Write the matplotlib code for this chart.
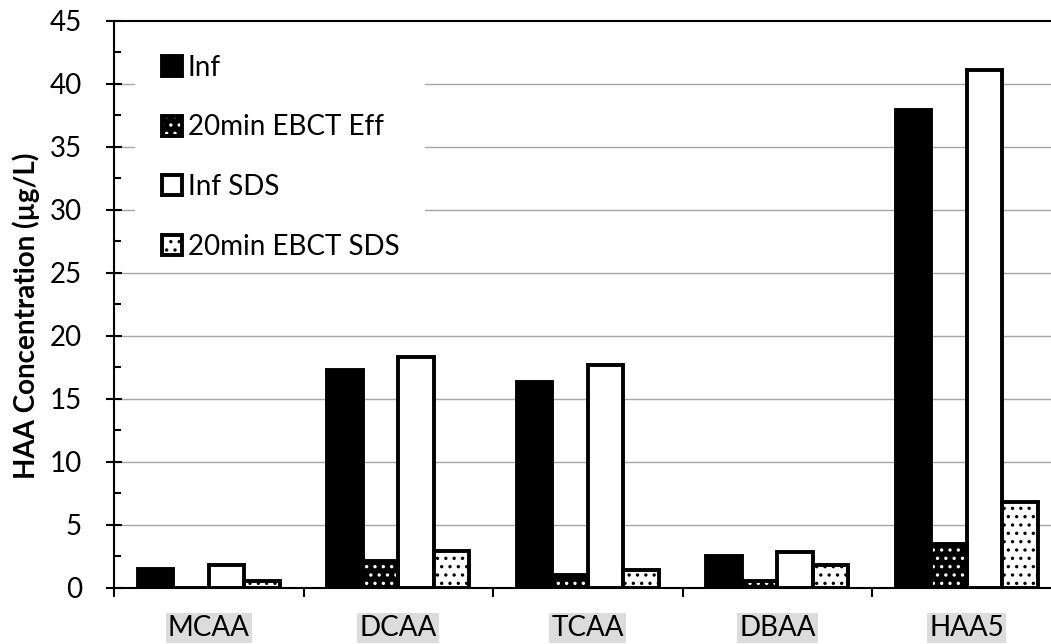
import numpy as np
import matplotlib
matplotlib.use("Agg")
import matplotlib.pyplot as plt
from matplotlib.patches import Patch, Rectangle
from matplotlib.legend_handler import HandlerTuple
from matplotlib.ticker import MultipleLocator, FixedLocator

# ─────────────────────────────────────────────
# Data
# ─────────────────────────────────────────────
categories    = ["MCAA", "DCAA", "TCAA", "DBAA", "HAA5"]
inf           = [1.5, 17.3, 16.3, 2.5, 37.9]
eff_20min     = [0.0, 2.1, 1.0, 0.5, 3.5]
inf_sds       = [1.8, 18.3, 17.7, 2.8, 41.1]
eff_20min_sds = [0.5, 2.9, 1.4, 1.8, 6.8]
series_labels = ["Inf", "20min EBCT Eff", "Inf SDS", "20min EBCT SDS"]

plt.rcParams["font.family"] = ["Lato", "DejaVu Sans"]
plt.rcParams["hatch.linewidth"] = 1.2

FS = 20
EDGE_LW = 2.8
BAR_W = 0.187

fig = plt.figure(figsize=(10.51, 6.44), dpi=100)
ax = fig.add_axes([0.1085, 0.0874, 0.9015, 0.8805])

x = np.arange(len(categories))
offsets = (np.arange(4) - 1.5) * BAR_W

# Inf - solid black
ax.bar(x + offsets[0], inf, BAR_W, facecolor="black", edgecolor="black",
       linewidth=EDGE_LW, zorder=3)
# 20min Eff - black with white dots
ax.bar(x + offsets[1], eff_20min, BAR_W, facecolor="black", edgecolor="white",
       linewidth=0, hatch="..", zorder=3)
ax.bar(x + offsets[1], eff_20min, BAR_W, facecolor="none", edgecolor="black",
       linewidth=EDGE_LW, zorder=4)
# Inf SDS - white
ax.bar(x + offsets[2], inf_sds, BAR_W, facecolor="white", edgecolor="black",
       linewidth=EDGE_LW, zorder=3)
# 20min SDS - white with black dots
ax.bar(x + offsets[3], eff_20min_sds, BAR_W, facecolor="white", edgecolor="black",
       linewidth=EDGE_LW, hatch="..", zorder=3)

# axes / ticks
ax.set_xlim(-0.5, len(categories) - 0.5)
ax.set_ylim(0, 45)
ax.yaxis.set_major_locator(MultipleLocator(5))
ax.yaxis.set_minor_locator(MultipleLocator(2.5))
ax.tick_params(axis="y", which="major", direction="inout", length=12.2, width=1.5,
               labelsize=FS, pad=17)
ax.tick_params(axis="y", which="minor", direction="in", length=5, width=1.5)

ax.xaxis.set_major_locator(FixedLocator(np.arange(len(categories) + 1) - 0.5))
ax.xaxis.set_major_formatter(plt.NullFormatter())
ax.xaxis.set_minor_locator(FixedLocator(x))
ax.set_xticklabels(categories, minor=True)
ax.tick_params(axis="x", which="major", direction="out", length=6.5, width=1.5)
ax.tick_params(axis="x", which="minor", length=0, labelsize=FS, pad=19.5)
for lbl in ax.get_xticklabels(minor=True):
    lbl.set_bbox(dict(boxstyle="square,pad=0.08", facecolor="#dcdcdc", edgecolor="none"))

for yv in range(5, 45, 5):
    ax.axhline(yv, color="#a6a6a6", linewidth=1.0, zorder=1)

for side in ["left", "bottom", "top"]:
    ax.spines[side].set_linewidth(1.5)
    ax.spines[side].set_color("black")
ax.spines["right"].set_visible(False)

ax.set_ylabel("HAA Concentration (µg/L)", fontsize=FS, fontweight="bold")
ax.yaxis.set_label_coords(-0.078, 0.48)

# legend (white area behind it hides the grid lines)
ax.add_patch(Rectangle((0.022, 0.575), 0.306, 0.42, transform=ax.transAxes,
                       facecolor="white", edgecolor="none", zorder=2))
handles = [
    Patch(facecolor="black", edgecolor="black", linewidth=EDGE_LW),
    (Patch(facecolor="black", edgecolor="white", linewidth=0, hatch=".."),
     Patch(facecolor="none", edgecolor="black", linewidth=EDGE_LW)),
    Patch(facecolor="white", edgecolor="black", linewidth=EDGE_LW),
    Patch(facecolor="white", edgecolor="black", linewidth=EDGE_LW, hatch=".."),
]
leg = ax.legend(handles, series_labels, loc="upper left",
                bbox_to_anchor=(0.0507, 0.940), frameon=False, fontsize=FS,
                handlelength=0.72, handleheight=0.72, handletextpad=0.2,
                labelspacing=1.21, borderpad=0, borderaxespad=0,
                handler_map={tuple: HandlerTuple(ndivide=1)})
leg.set_zorder(5)

fig.savefig("out.png", dpi=100)
